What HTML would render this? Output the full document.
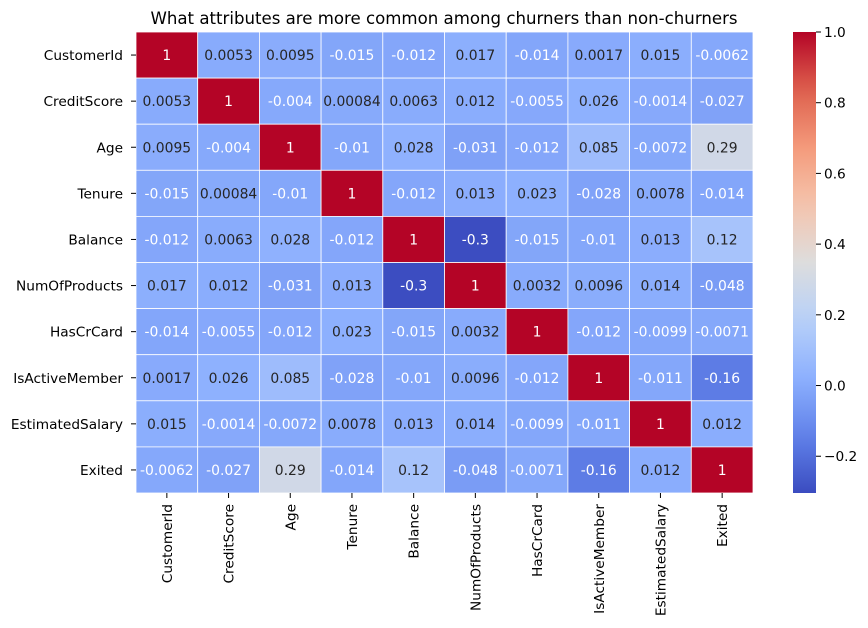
<!DOCTYPE html>
<html><head><meta charset="utf-8"><style>
body{margin:0;background:#fff;}
svg{display:block;font-family:"DejaVu Sans","Liberation Sans",sans-serif;}
</style></head><body>
<svg id="chart" width="868" height="628" viewBox="0 0 868 628">
<text x="444" y="24" text-anchor="middle" font-size="16.6" fill="#000">What attributes are more common among churners than non-churners</text>
<g id="cells"></g>
<g id="ylabels"></g>
<g id="xlabels"></g>
<defs><linearGradient id="cbgrad" x1="0" y1="1" x2="0" y2="0"></linearGradient></defs>
<rect x="793" y="32" width="23" height="461" fill="url(#cbgrad)"/>
<g id="cbticks"></g>
</svg>
<script>
const labels = ["CustomerId","CreditScore","Age","Tenure","Balance","NumOfProducts","HasCrCard","IsActiveMember","EstimatedSalary","Exited"];
const row0 = [1,0.0053,0.0095,-0.015,-0.012,0.017,-0.014,0.0017,0.015,-0.0062];
const row1 = [0.0053,1,-0.004,0.00084,0.0063,0.012,-0.0055,0.026,-0.0014,-0.027];
const row2 = [0.0095,-0.004,1,-0.01,0.028,-0.031,-0.012,0.085,-0.0072,0.29];
const row3 = [-0.015,0.00084,-0.01,1,-0.012,0.013,0.023,-0.028,0.0078,-0.014];
const row4 = [-0.012,0.0063,0.028,-0.012,1,-0.3,-0.015,-0.01,0.013,0.12];
const row5 = [0.017,0.012,-0.031,0.013,-0.3,1,0.0032,0.0096,0.014,-0.048];
const row6 = [-0.014,-0.0055,-0.012,0.023,-0.015,0.0032,1,-0.012,-0.0099,-0.0071];
const row7 = [0.0017,0.026,0.085,-0.028,-0.01,0.0096,-0.012,1,-0.011,-0.16];
const row8 = [0.015,-0.0014,-0.0072,0.0078,0.013,0.014,-0.0099,-0.011,1,0.012];
const row9 = [-0.0062,-0.027,0.29,-0.014,0.12,-0.048,-0.0071,-0.16,0.012,1];
const matrix = [row0,row1,row2,row3,row4,row5,row6,row7,row8,row9];
const cbTicks = [-0.2,0,0.2,0.4,0.6,0.8,1.0];

const vmin=-0.304, vmax=1;
const X0=136, X1=753, Y0=32, Y1=493;
const cw=(X1-X0)/labels.length, ch=(Y1-Y0)/labels.length;
const stops=[[59,76,192],[97,130,234],[141,176,254],[184,208,249],[221,221,221],[245,196,173],[244,154,123],[222,96,77],[180,4,38]];
function cmap(v){let t=(v-vmin)/(vmax-vmin);t=Math.max(0,Math.min(1,t));const p=t*8;const i=Math.min(7,Math.floor(p));const f=p-i;const a=stops[i],b=stops[i+1];return `rgb(${a.map((c,k)=>Math.round(c+(b[k]-c)*f)).join(',')})`;}
function fmt(v){if(v===1)return "1";return String(Number(v.toPrecision(2)));}
const NS="http://www.w3.org/2000/svg";
const FS='13.9', TS='13.7';
const cells=document.getElementById('cells');
matrix.forEach((row,r)=>row.forEach((v,c)=>{
 const rect=document.createElementNS(NS,'rect');
 rect.setAttribute('x',X0+c*cw);rect.setAttribute('y',Y0+r*ch);
 rect.setAttribute('width',cw);rect.setAttribute('height',ch);
 rect.setAttribute('fill',cmap(v));rect.setAttribute('stroke','#fff');rect.setAttribute('stroke-width','0.8');
 
 
 cells.appendChild(rect);
 const t=document.createElementNS(NS,'text');
 t.setAttribute('x',X0+(c+0.5)*cw);t.setAttribute('y',Y0+(r+0.5)*ch+5);
 t.setAttribute('text-anchor','middle');t.setAttribute('font-size',FS);
 t.setAttribute('fill',(v>0.6||v<0)?'#fff':'#262626');
 t.textContent=fmt(v);
 
 
 cells.appendChild(t);
}));
const yl=document.getElementById('ylabels'),xl=document.getElementById('xlabels');
labels.forEach((l,i)=>{
 const t=document.createElementNS(NS,'text');
 t.setAttribute('x',X0-13);t.setAttribute('y',Y0+(i+0.5)*ch+5);
 t.setAttribute('text-anchor','end');t.setAttribute('font-size',TS);t.textContent=l;
 
 
 yl.appendChild(t);
 const ln=document.createElementNS(NS,'line');
 ln.setAttribute('x1',X0-5);ln.setAttribute('x2',X0);ln.setAttribute('y1',Y0+(i+0.5)*ch);ln.setAttribute('y2',Y0+(i+0.5)*ch);ln.setAttribute('stroke','#000');
 
 
 yl.appendChild(ln);
 const cx=X0+(i+0.5)*cw;
 const t2=document.createElementNS(NS,'text');
 t2.setAttribute('transform',`translate(${cx+5},${Y1+11}) rotate(-90)`);
 t2.setAttribute('text-anchor','end');t2.setAttribute('font-size',TS);t2.textContent=l;
 
 
 xl.appendChild(t2);
 const ln2=document.createElementNS(NS,'line');
 ln2.setAttribute('x1',cx);ln2.setAttribute('x2',cx);ln2.setAttribute('y1',Y1);ln2.setAttribute('y2',Y1+5);ln2.setAttribute('stroke','#000');
 
 
 xl.appendChild(ln2);
});
const g=document.getElementById('cbgrad');
for(let i=0;i<=20;i++){const v=vmin+(vmax-vmin)*i/20;const s=document.createElementNS(NS,'stop');s.setAttribute('offset',(i/20));s.setAttribute('stop-color',cmap(v));g.appendChild(s);}
const cbt=document.getElementById('cbticks');
cbTicks.forEach(v=>{
 const y=Y1-(v-vmin)/(vmax-vmin)*(Y1-Y0);
 const ln=document.createElementNS(NS,'line');
 ln.setAttribute('x1',816);ln.setAttribute('x2',821);ln.setAttribute('y1',y);ln.setAttribute('y2',y);ln.setAttribute('stroke','#000');
 
 
 cbt.appendChild(ln);
 const t=document.createElementNS(NS,'text');
 t.setAttribute('x',824);t.setAttribute('y',y+5);t.setAttribute('font-size',TS);
 t.textContent=(v<0?'\u2212'+Math.abs(v).toFixed(1):v.toFixed(1));
 
 
 cbt.appendChild(t);
});
</script>
</body></html>
